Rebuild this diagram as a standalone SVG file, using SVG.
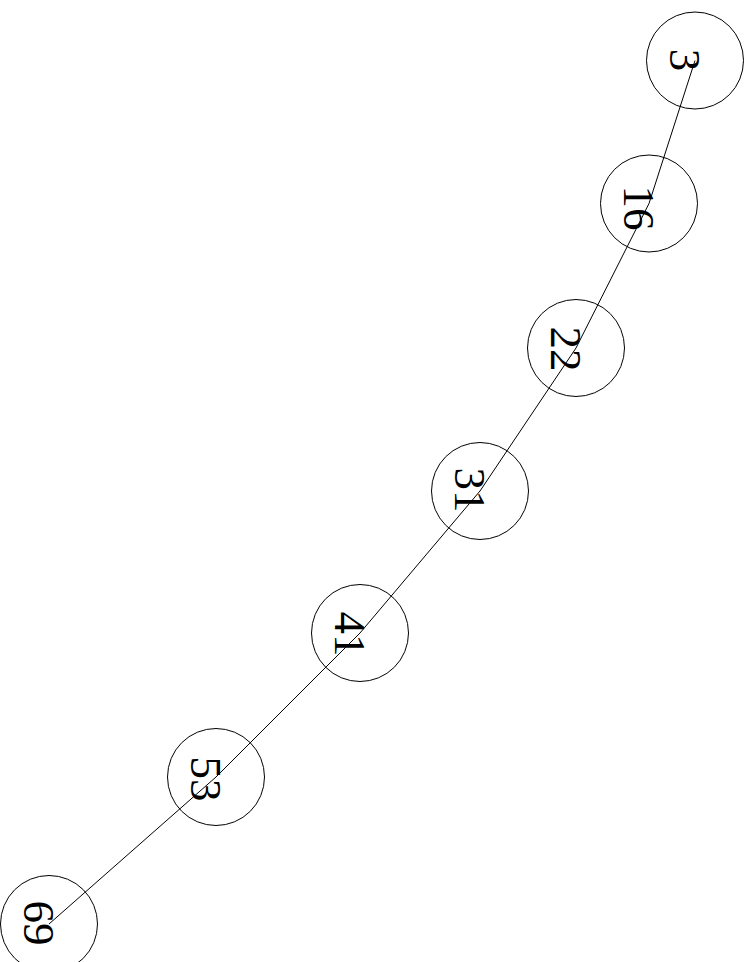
<svg xmlns="http://www.w3.org/2000/svg" width="752" height="962" viewBox="0 0 752 962">
<style>
.node circle{fill:none;stroke:#000;stroke-width:1}
.node text{font-family:"Liberation Serif","Times New Roman",serif;font-size:45px;text-anchor:middle;fill:#000}
.edges line{stroke:#000;stroke-width:1}
</style>
<rect width="752" height="962" fill="#fff"/>
<g id="n3" class="node"><circle cx="695" cy="60.5" r="48.5"/><text transform="translate(669.5,60) rotate(90)">3</text></g>
<g id="n16" class="node"><circle cx="649" cy="203.5" r="48.5"/><text transform="translate(623.5,208) rotate(90)">16</text></g>
<g id="n22" class="node"><circle cx="576" cy="348" r="48.5"/><text transform="translate(550.5,349) rotate(90)">22</text></g>
<g id="n31" class="node"><circle cx="480" cy="491" r="48.5"/><text transform="translate(454.5,490) rotate(90)">31</text></g>
<g id="n41" class="node"><circle cx="360" cy="633" r="48.5"/><text transform="translate(334.5,634) rotate(90)">41</text></g>
<g id="n53" class="node"><circle cx="216" cy="777" r="48.5"/><text transform="translate(190.5,779) rotate(90)">53</text></g>
<g id="n69" class="node"><circle cx="49" cy="924" r="48.5"/><text transform="translate(23.5,923) rotate(90)">69</text></g>
<g id="edges" class="edges">
<line x1="695" y1="60.5" x2="649" y2="203.5"/>
<line x1="649" y1="203.5" x2="576" y2="348"/>
<line x1="576" y1="348" x2="480" y2="491"/>
<line x1="480" y1="491" x2="360" y2="633"/>
<line x1="360" y1="633" x2="216" y2="777"/>
<line x1="216" y1="777" x2="49" y2="924"/>
</g>
</svg>
